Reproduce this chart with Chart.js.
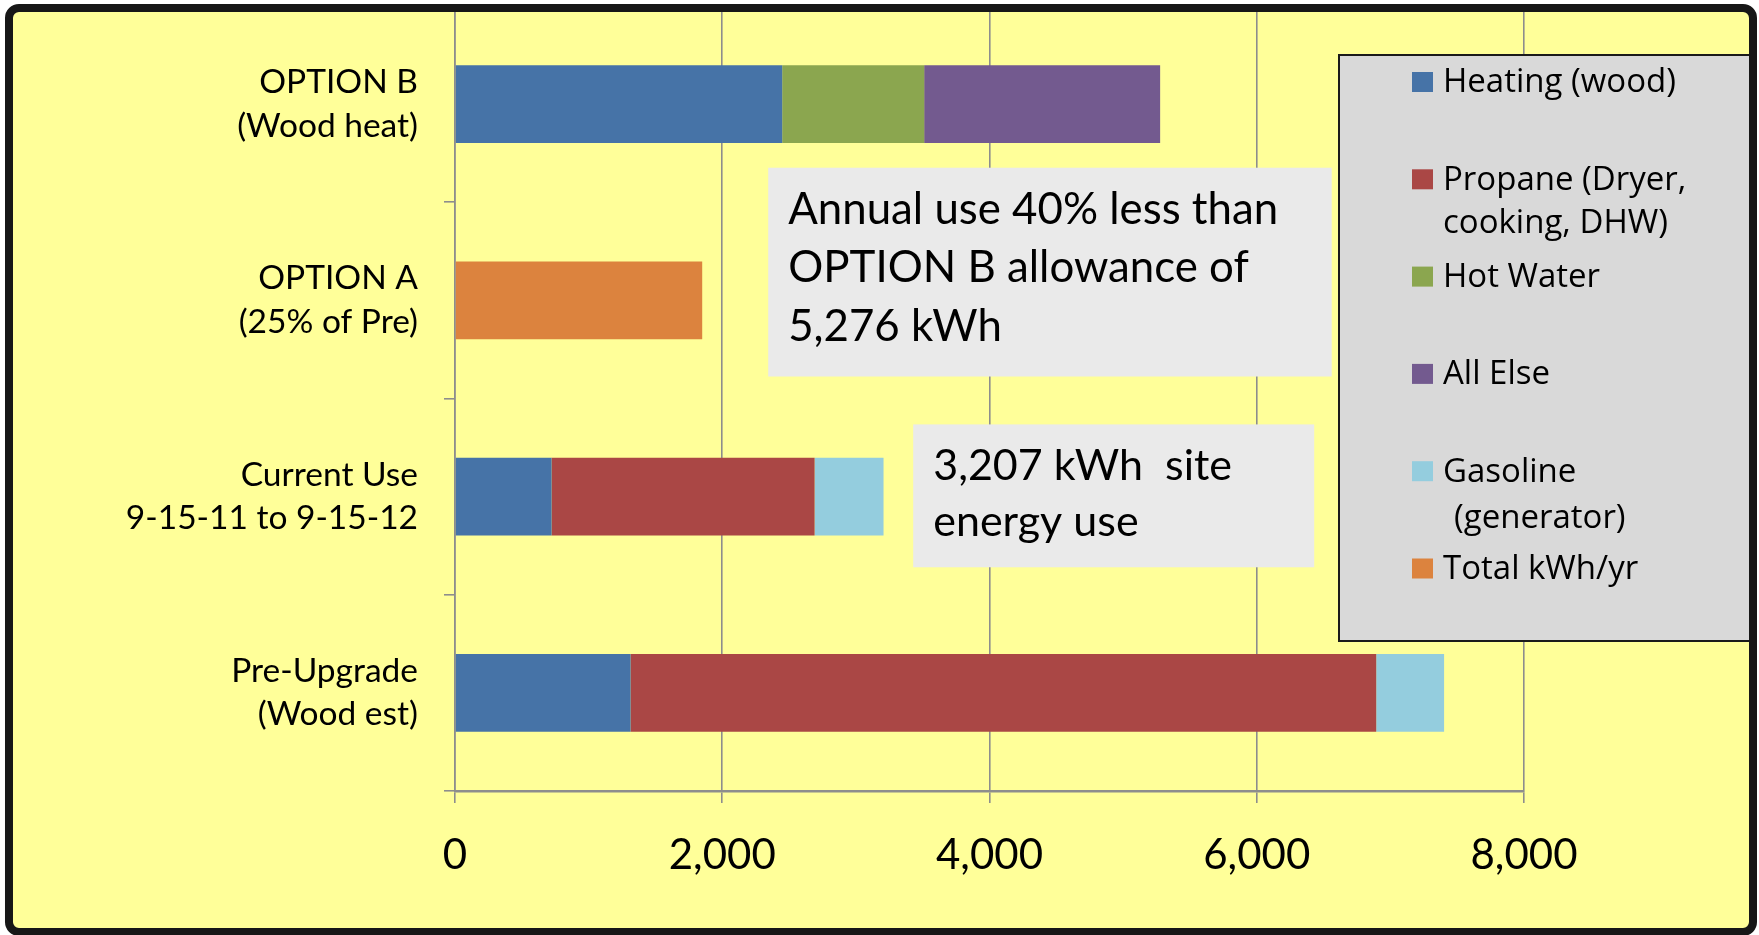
<!DOCTYPE html>
<html>
<head>
<meta charset="utf-8">
<script src="https://cdn.jsdelivr.net/npm/chart.js@4/dist/chart.umd.min.js"></script>
<style>
  html, body { margin: 0; padding: 0; background: #ffffff; }
  #wrap { position: relative; width: 1759px; height: 935px; }
</style>
</head>
<body>
<div id="wrap"><canvas id="c"></canvas></div>
<script>
// ---- data ----
const categories = [
  ["OPTION B", "(Wood heat)"],
  ["OPTION A", "(25% of Pre)"],
  ["Current Use", "9-15-11 to 9-15-12"],
  ["Pre-Upgrade", "(Wood est)"]
];
const seriesNames = ["Heating (wood)", "Propane (Dryer, cooking, DHW)", "Hot Water", "All Else", "Gasoline (generator)", "Total kWh/yr"];
const legendLines = [["Heating (wood)"], ["Propane (Dryer,", "cooking, DHW)"], ["Hot Water"], ["All Else"], ["Gasoline", "(generator)"], ["Total kWh/yr"]];
const heating  = [2449, null, 723, 1314];
const propane  = [null, null, 1968, 5580];
const hotWater = [1062, null, null, null];
const allElse  = [1766, null, null, null];
const gasoline = [null, null, 516, 508];
const totalKwh = [null, 1850, null, null];
const xTicks = [0, 2000, 4000, 6000, 8000];
const seriesColors = ["#4673A7", "#AA4745", "#8BA64F", "#735A8F", "#94CDDE", "#DC833E"];
const note1Lines = ["Annual use 40% less than", "OPTION B allowance of", "5,276 kWh"];
const note2Lines = ["3,207 kWh  site", "energy use"];

const seriesValues = [heating, propane, hotWater, allElse, gasoline, totalKwh];

const GRID = "#8d8d8d";

const decorPlugin = {
  id: "decor",
  beforeDraw(chart) {
    const ctx = chart.ctx;
    ctx.save();
    ctx.fillStyle = "#ffffff";
    ctx.fillRect(0, 0, chart.width, chart.height);
    ctx.fillStyle = "#FFFF99";
    ctx.beginPath();
    ctx.roundRect(9, 8, 1744, 924, 10);
    ctx.fill();
    ctx.restore();
  },
  afterDraw(chart) {
    const ctx = chart.ctx;
    const xs = chart.scales.x, ys = chart.scales.y;
    ctx.save();
    // annotation boxes positioned via the scales
    function noteBox(x0, x1, y0, y1, lines, baseFirst, step, padLeft, size) {
      const L = xs.getPixelForValue(x0), R = xs.getPixelForValue(x1);
      const T = ys.getPixelForValue(y0), B = ys.getPixelForValue(y1);
      ctx.fillStyle = "#EAEAEA";
      ctx.fillRect(L, T, R - L, B - T);
      ctx.fillStyle = "#000000";
      ctx.font = size + "px Lato";
      ctx.textAlign = "left";
      ctx.textBaseline = "alphabetic";
      lines.forEach((t, i) => ctx.fillText(t, L + padLeft, T + baseFirst + i * step));
    }
    noteBox(2344, 6561, 0.324, 1.388, note1Lines, 56, 58.5, 20, 43.8);
    noteBox(3429, 6430, 1.632, 2.36, note2Lines, 56, 56, 20, 43);

    // legend
    const lx = 1339, ly = 55, lw = 412, lh = 586;
    ctx.fillStyle = "#D9D9D9";
    ctx.fillRect(lx, ly, lw, lh);
    ctx.strokeStyle = "#1a1a1a";
    ctx.lineWidth = 2;
    ctx.strokeRect(lx, ly, lw, lh);
    ctx.font = "33px 'Open Sans'";
    ctx.textBaseline = "middle";
    ctx.textAlign = "left";
    chart.data.datasets.forEach((ds, i) => {
      const cy = 83 + i * 97.3;
      ctx.fillStyle = ds.backgroundColor;
      ctx.fillRect(1412, cy - 11, 21, 20);
      ctx.fillStyle = "#000000";
      legendLines[i].forEach((t, j) => {
        ctx.fillText(t, 1443 + (i === 4 && j === 1 ? 11 : 0), cy + j * (i === 4 ? 46 : 43));
      });
    });

    // outer frame
    ctx.strokeStyle = "#171717";
    ctx.lineWidth = 8;
    ctx.beginPath();
    ctx.roundRect(9, 8, 1744, 924, 10);
    ctx.stroke();
    ctx.restore();
  }
};

const datasets = seriesNames.map((name, i) => ({
  label: name,
  data: seriesValues[i],
  backgroundColor: seriesColors[i],
  borderWidth: 0,
  barPercentage: 0.396,
  categoryPercentage: 1.0
}));

new Chart(document.getElementById("c"), {
  type: "bar",
  data: { labels: categories, datasets },
  plugins: [decorPlugin],
  options: {
    indexAxis: "y",
    responsive: true,
    maintainAspectRatio: false,
    animation: false,
    devicePixelRatio: 1,
    layout: { padding: { top: 6, right: 235, bottom: 0, left: 0 } },
    plugins: { legend: { display: false }, tooltip: { enabled: false } },
    scales: {
      x: {
        stacked: true,
        min: 0, max: 8000,
        afterBuildTicks(scale) { scale.ticks = xTicks.map(v => ({ value: v })); },
        afterFit(scale) { scale.height = 144; scale.paddingLeft = 0; scale.paddingRight = 0; },
        grid: { color: GRID, lineWidth: 1.6, tickLength: 12, drawTicks: true },
        border: { color: GRID, width: 2.5 },
        ticks: {
          color: "#000000",
          padding: 27,
          font: { family: "Lato", size: 42, lineHeight: 1.2 },
          callback: v => Number(v).toLocaleString("en-US")
        }
      },
      y: {
        stacked: true,
        afterFit(scale) { scale.width = 455; scale.paddingTop = 0; scale.paddingBottom = 0; },
        grid: { drawOnChartArea: false, drawTicks: true, tickLength: 11, color: GRID, lineWidth: 1.6 },
        border: { color: GRID, width: 1.6 },
        ticks: {
          color: "#000000",
          padding: 26,
          font: { family: "Lato", size: 33.5, lineHeight: 1.3 }
        }
      }
    }
  }
});
</script>
</body>
</html>
